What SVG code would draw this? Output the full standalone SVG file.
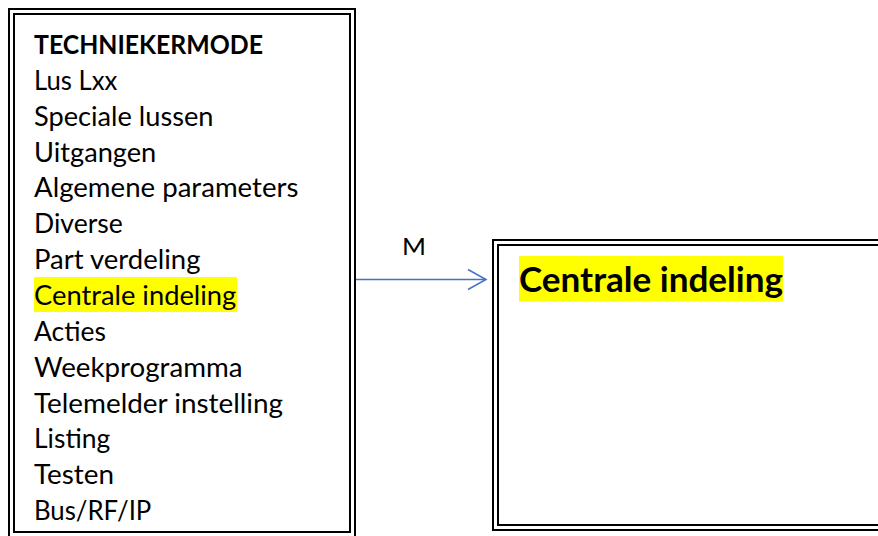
<svg xmlns="http://www.w3.org/2000/svg" width="878" height="536" viewBox="0 0 878 536">
  <style>
    .frame { fill: none; stroke: #000; stroke-width: 2; }
    .item { font-family: Lato, "Open Sans", "Liberation Sans", sans-serif; font-size: 26.4px; fill: #000; }
    .bold { font-weight: bold; }
    .head { font-family: Lato, "Open Sans", "Liberation Sans", sans-serif; font-size: 33.6px; font-weight: bold; fill: #000; }
    .mark { fill: #ffff00; }
    .link { fill: none; stroke: #4472c4; stroke-width: 1.5; }
    .label { font-family: Lato, "Open Sans", "Liberation Sans", sans-serif; font-size: 24px; fill: #000; }
  </style>
  <defs>
    <marker id="open-arrow" markerUnits="userSpaceOnUse" markerWidth="24" markerHeight="24" viewBox="0 0 24 24" refX="20" refY="12" orient="auto">
      <path d="M2,2 L20,12 L2,22" fill="none" stroke="#4472c4" stroke-width="1.5"/>
    </marker>
  </defs>

  <rect width="878" height="536" fill="#fff"/>

  <!-- Menu box: technician mode -->
  <g id="menu-techniekermode">
    <rect class="frame" x="9" y="9" width="346" height="540"/>
    <rect class="frame" x="14" y="14" width="336" height="518"/>
    <rect class="mark" x="34" y="277" width="203" height="35"/>
    <text class="item bold" x="34" y="54" textLength="229" lengthAdjust="spacingAndGlyphs">TECHNIEKERMODE</text>
    <text class="item" x="34" y="89.9" textLength="83.4" lengthAdjust="spacingAndGlyphs">Lus Lxx</text>
    <text class="item" x="34" y="125.7" textLength="179.5" lengthAdjust="spacingAndGlyphs">Speciale lussen</text>
    <text class="item" x="34" y="161.6" textLength="122.3" lengthAdjust="spacingAndGlyphs">Uitgangen</text>
    <text class="item" x="34" y="197.4" textLength="264.4" lengthAdjust="spacingAndGlyphs">Algemene parameters</text>
    <text class="item" x="34" y="233.3" textLength="88.8" lengthAdjust="spacingAndGlyphs">Diverse</text>
    <text class="item" x="34" y="269.1" textLength="166.5" lengthAdjust="spacingAndGlyphs">Part verdeling</text>
    <text class="item" x="34" y="305" textLength="202.3" lengthAdjust="spacingAndGlyphs">Centrale indeling</text>
    <text class="item" x="34" y="340.8" textLength="71.9" lengthAdjust="spacingAndGlyphs">Acties</text>
    <text class="item" x="34" y="376.7" textLength="208.6" lengthAdjust="spacingAndGlyphs">Weekprogramma</text>
    <text class="item" x="34" y="412.5" textLength="249" lengthAdjust="spacingAndGlyphs">Telemelder instelling</text>
    <text class="item" x="34" y="448.4" textLength="76.2" lengthAdjust="spacingAndGlyphs">Listing</text>
    <text class="item" x="34" y="484.2" textLength="80.1" lengthAdjust="spacingAndGlyphs">Testen</text>
    <text class="item" x="34" y="520.1" textLength="117.3" lengthAdjust="spacingAndGlyphs">Bus/RF/IP</text>
  </g>

  <!-- Sub-menu box: central layout -->
  <g id="menu-centrale-indeling">
    <rect class="frame" x="493" y="240" width="400" height="290"/>
    <rect class="frame" x="498" y="245" width="400" height="280"/>
    <rect class="mark" x="519" y="256" width="264" height="45.7"/>
    <text class="head" x="519" y="292" textLength="264" lengthAdjust="spacingAndGlyphs">Centrale indeling</text>
  </g>

  <!-- Connectors -->
  <g id="connectors">
    <line class="link" x1="356" y1="279.5" x2="486" y2="279.5" marker-end="url(#open-arrow)"/>
    <text class="label" x="402" y="255" textLength="24" lengthAdjust="spacingAndGlyphs">M</text>
  </g>
</svg>
